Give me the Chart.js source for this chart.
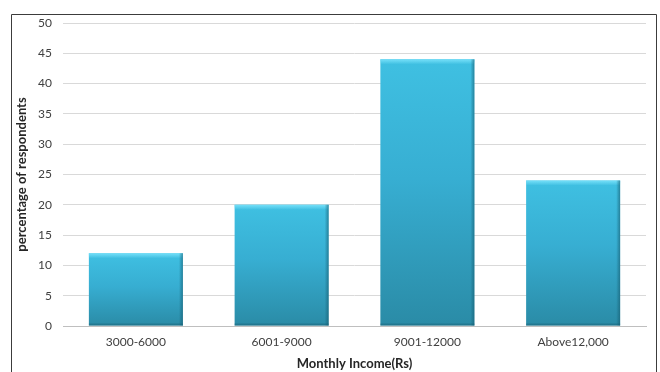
<!DOCTYPE html>
<html>
<head>
<meta charset="utf-8">
<script src="https://cdn.jsdelivr.net/npm/chart.js@4/dist/chart.umd.min.js"></script>
<style>
  html, body { margin: 0; padding: 0; background: #ffffff; }
  #wrap { position: relative; width: 660px; height: 372px; }
</style>
</head>
<body>
<div id="wrap"><canvas id="chart" width="660" height="372"></canvas></div>
<script>
// Income brackets and share of respondents in each
const categories = ['3000-6000', '6001-9000', '9001-12000', 'Above12,000'];
const percentages = [12, 20, 44, 24];
const yTicks = [0, 5, 10, 15, 20, 25, 30, 35, 40, 45, 50];

const FONT = 'Lato, "Open Sans", sans-serif';

// Vertical gradient for each bar, light at the top, darker at the base
function barFill(ctx) {
  const chart = ctx.chart;
  if (!chart.chartArea || !chart.scales.y) return '#37acd0';
  const y = chart.scales.y;
  const top = y.getPixelForValue(ctx.raw);
  const base = y.getPixelForValue(0);
  const g = chart.ctx.createLinearGradient(0, top, 0, base);
  g.addColorStop(0, '#3fc0e2');
  g.addColorStop(0.45, '#37aed2');
  g.addColorStop(1, '#2a8ba6');
  return g;
}

// Outer frame around the chart
const framePlugin = {
  id: 'frame',
  afterDraw(chart) {
    const c = chart.ctx;
    c.save();
    c.strokeStyle = '#3c3c3c';
    c.lineWidth = 1;
    c.beginPath();
    c.moveTo(11.5, 380);
    c.lineTo(11.5, 14.5);
    c.lineTo(656.5, 14.5);
    c.lineTo(656.5, 380);
    c.stroke();
    c.restore();
  }
};

// Bevel highlight along the top and shade on the right side of each bar
const bevelPlugin = {
  id: 'bevel',
  afterDatasetsDraw(chart) {
    const c = chart.ctx;
    chart.getDatasetMeta(0).data.forEach(bar => {
      const l = bar.x - bar.width / 2, r = bar.x + bar.width / 2;
      const t = bar.y, b = bar.base;
      c.save();
      const hg = c.createLinearGradient(0, t, 0, t + 5);
      hg.addColorStop(0, 'rgba(120,225,250,0.95)');
      hg.addColorStop(1, 'rgba(120,225,250,0)');
      c.fillStyle = hg;
      c.fillRect(l, t, r - l, 5);
      const sg = c.createLinearGradient(r - 4, 0, r, 0);
      sg.addColorStop(0, 'rgba(20,90,110,0)');
      sg.addColorStop(1, 'rgba(20,90,110,0.6)');
      c.fillStyle = sg;
      c.fillRect(r - 4, t, 4, b - t);
      const bg = c.createLinearGradient(0, b - 3, 0, b);
      bg.addColorStop(0, 'rgba(20,90,110,0)');
      bg.addColorStop(1, 'rgba(20,90,110,0.6)');
      c.fillStyle = bg;
      c.fillRect(l, b - 3, r - l, 3);
      c.restore();
    });
  }
};

new Chart(document.getElementById('chart'), {
  type: 'bar',
  data: {
    labels: categories,
    datasets: [{
      data: percentages,
      backgroundColor: barFill,
      borderWidth: 0,
      barPercentage: 0.645,
      categoryPercentage: 1
    }]
  },
  options: {
    responsive: false,
    animation: false,
    devicePixelRatio: 1,
    layout: { padding: { top: 23, right: 14, left: 10, bottom: 0 } },
    plugins: { legend: { display: false }, tooltip: { enabled: false } },
    scales: {
      x: {
        grid: { display: false, drawTicks: false },
        border: { display: true, color: '#bfbfbf', width: 1 },
        ticks: { color: '#404040', font: { family: FONT, size: 12 }, padding: 9 },
        title: {
          display: true, text: 'Monthly Income(Rs)', color: '#262626',
          font: { family: FONT, size: 13, weight: 'bold' }, padding: { top: 2, bottom: 0 }
        },
        afterFit(s) { s.height = 46; }
      },
      y: {
        min: 0, max: 50,
        afterBuildTicks(s) { s.ticks = yTicks.map(v => ({ value: v })); },
        grid: { color: '#d9d9d9', lineWidth: 1, drawTicks: false },
        border: { display: false },
        ticks: { color: '#404040', font: { family: FONT, size: 12 }, padding: 11 },
        title: {
          display: true, text: 'percentage of respondents', color: '#262626',
          font: { family: FONT, size: 13, weight: 'bold' }, padding: { top: 4, bottom: 6 }
        },
        afterFit(s) { s.width = 53; }
      }
    }
  },
  plugins: [framePlugin, bevelPlugin]
});
</script>
</body>
</html>
